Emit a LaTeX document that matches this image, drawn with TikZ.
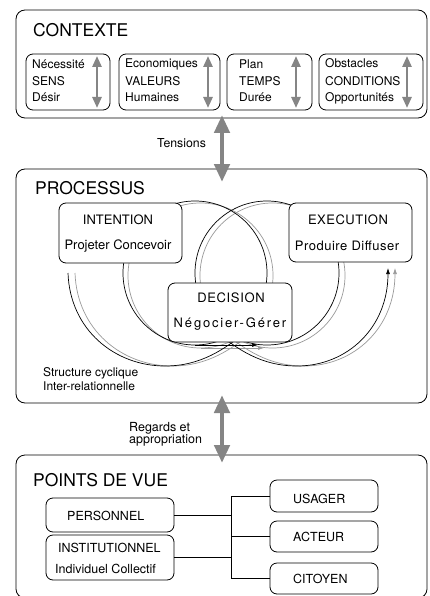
\documentclass[tikz,border=0pt]{standalone}
\usepackage{fontspec}
\setmainfont{TeX Gyre Heros}
\usetikzlibrary{arrows.meta}
\definecolor{agray}{HTML}{858585}
\definecolor{lgray}{HTML}{9A9A9A}
\begin{document}
\begin{tikzpicture}[x=1pt,y=-1pt,
  bigbox/.style={draw, rounded corners=9pt, line width=0.8pt, fill=white, inner sep=0pt, outer sep=0pt},
  ibox/.style={draw, rounded corners=7pt, line width=0.8pt, fill=white, inner sep=0pt, outer sep=0pt},
  txt/.style={inner sep=0pt, font=\fontsize{12}{14}\selectfont, anchor=base west},
  mtxt/.style={inner sep=0pt, font=\fontsize{12.5}{14}\selectfont, anchor=base west},
  ctxt/.style={inner sep=0pt, font=\fontsize{13}{15}\selectfont, anchor=base},
  title/.style={inner sep=0pt, font=\fontsize{17.5}{20}\selectfont, anchor=base west},
  bigarrow/.style={draw=agray, line width=4.5pt, {Triangle[length=18pt,width=15pt]}-{Triangle[length=18pt,width=15pt]}},
  smallarrow/.style={draw=agray, line width=2.6pt, {Triangle[length=11pt,width=9pt]}-{Triangle[length=11pt,width=9pt]}},
  cyc/.style={line width=0.7pt, draw=black},
  cycg/.style={line width=0.7pt, draw=lgray},
  tipb/.style={-{Latex[length=6pt,width=4pt]}},
  link/.style={line width=0.7pt}
]
\useasboundingbox (0,0) rectangle (430,596);

% ---------- outer boxes ----------
\node[bigbox, minimum width=411pt, minimum height=108pt] (ctx) at (221.5,64) {};
\node[bigbox, minimum width=411pt, minimum height=234pt] (proc) at (221.5,286) {};
\node[bigbox, minimum width=411pt, minimum height=143pt] (pdv) at (221.5,526.5) {};

\node[title] (tctx) at (33,37) {CONTEXTE};
\node[title] (tproc) at (35,194) {PROCESSUS};
\node[title] (tpdv) at (33,486) {POINTS DE VUE};

% ---------- contexte ----------
\node[ibox, minimum width=84pt, minimum height=56pt] (c1) at (68,82) {};
\node[ibox, minimum width=101pt, minimum height=56pt] (c2) at (169.5,82) {};
\node[ibox, minimum width=85pt, minimum height=56pt] (c3) at (269.5,82) {};
\node[ibox, minimum width=104pt, minimum height=56pt] (c4) at (371,82) {};

\node[txt] (c1a) at (32,69) {Nécessité};
\node[txt] (c1b) at (32,86) {SENS};
\node[txt] (c1c) at (32,102) {Désir};
\node[txt] (c2a) at (125,68) {Economiques};
\node[txt] (c2b) at (125,86) {VALEURS};
\node[txt] (c2c) at (125,102) {Humaines};
\node[txt] (c3a) at (239,69) {Plan};
\node[txt] (c3b) at (239,86) {TEMPS};
\node[txt] (c3c) at (239,102) {Durée};
\node[txt] (c4a) at (325,68) {Obstacles};
\node[txt] (c4b) at (325,86) {CONDITIONS};
\node[txt] (c4c) at (325,102) {Opportunités};

\coordinate (a1t) at (97,56);  \coordinate (a1b) at (97,108);
\coordinate (a2t) at (208,56); \coordinate (a2b) at (208,108);
\coordinate (a3t) at (296,56); \coordinate (a3b) at (296,108);
\coordinate (a4t) at (407,56); \coordinate (a4b) at (407,108);
\draw[smallarrow] (a1t) -- (a1b);
\draw[smallarrow] (a2t) -- (a2b);
\draw[smallarrow] (a3t) -- (a3b);
\draw[smallarrow] (a4t) -- (a4b);

% ---------- processus cycles ----------
% gray copies
\draw[cycg] (200.5,275.5) circle[radius=72.5pt];
\draw[cycg] (272.5,275.5) circle[radius=72.5pt];
\draw[cycg, -{Latex[length=6pt,width=4pt]}] (200.5,348) -- (264,348);
\begin{scope}[xshift=7pt]
\draw[cycg] (68,273) .. controls (70,330) and (115,366) .. (165,366)
               .. controls (200,366) and (225,350) .. (250,328);
\draw[cycg, -{Latex[length=6pt,width=4pt]}] (212,328) .. controls (237,350) and (262,366) .. (297,366)
               .. controls (347,366) and (388,328) .. (388,268);
\end{scope}
% black
\draw[cyc] (195,273) circle[radius=72pt];
\draw[cyc] (267,273) circle[radius=72pt];
\draw[cyc, tipb] (195,345) -- (258,345);
\draw[cyc] (68,273) .. controls (70,330) and (115,366) .. (165,366)
               .. controls (200,366) and (225,350) .. (250,328);
\draw[cyc, tipb] (212,328) .. controls (237,350) and (262,366) .. (297,366)
               .. controls (347,366) and (388,328) .. (388,268);

\node[ibox, minimum width=123pt, minimum height=60pt] (int) at (120.5,233) {};
\node[ibox, minimum width=123pt, minimum height=59pt] (exe) at (350.5,232.5) {};
\node[ibox, minimum width=124pt, minimum height=59pt] (dec) at (230,312.5) {};

\node[ctxt] (inta) at (118,224) {INTENTION};
\node[ctxt] (intb) at (118,249) {Projeter Concevoir};
\node[ctxt] (exea) at (348,224) {\addfontfeature{LetterSpace=4}EXECUTION};
\node[ctxt] (exeb) at (347,250) {\addfontfeature{LetterSpace=4}Produire Diffuser};
\node[ctxt] (deca) at (231,302) {\addfontfeature{LetterSpace=5}DECISION};
\node[ctxt] (decb) at (230,327) {\addfontfeature{LetterSpace=14}Négocier-Gérer};

\node[txt] (sc1) at (43,376) {Structure cyclique};
\node[txt] (sc2) at (43,390) {Inter-relationnelle};

% ---------- points de vue ----------
\node[ibox, minimum width=128pt, minimum height=34pt] (pers) at (110,515) {};
\node[ibox, minimum width=128pt, minimum height=45pt] (inst) at (110,557.5) {};
\node[ibox, minimum width=108pt, minimum height=32pt] (usa) at (324,496) {};
\node[ibox, minimum width=108pt, minimum height=31pt] (act) at (324,536.5) {};
\node[ibox, minimum width=108pt, minimum height=31pt] (cit) at (324,578.5) {};

\node[mtxt] (tpers) at (67,520) {PERSONNEL};
\node[mtxt] (tinst) at (58,552) {INSTITUTIONNEL};
\node[mtxt] (tind) at (55,573) {Individuel Collectif};
\node[mtxt] (tusa) at (293,503) {USAGER};
\node[mtxt] (tact) at (293,541) {ACTEUR};
\node[mtxt] (tcit) at (293,583) {CITOYEN};

\coordinate (bus) at (231,0);
\draw[link] (pers.east) -- (pers.east -| bus);
\draw[link] (inst.east) -- (inst.east -| bus);
\draw[link] (usa.west -| bus) -- (cit.west -| bus);
\draw[link] (usa.west -| bus) -- (usa.west);
\draw[link] (act.west -| bus) -- (act.west);
\draw[link] (cit.west -| bus) -- (cit.west);

% ---------- big arrows ----------
\node[txt, font=\fontsize{12.3}{14}\selectfont] (tens) at (157,147) {Tensions};
\node[mtxt] (reg1) at (129,431) {Regards et};
\node[mtxt] (reg2) at (129,443) {appropriation};

\coordinate (t1) at (222,115); \coordinate (t2) at (222,182);
\coordinate (r1) at (222,395); \coordinate (r2) at (222,463);
\draw[bigarrow] (t1) -- (t2);
\draw[bigarrow] (r1) -- (r2);
\end{tikzpicture}
\end{document}
